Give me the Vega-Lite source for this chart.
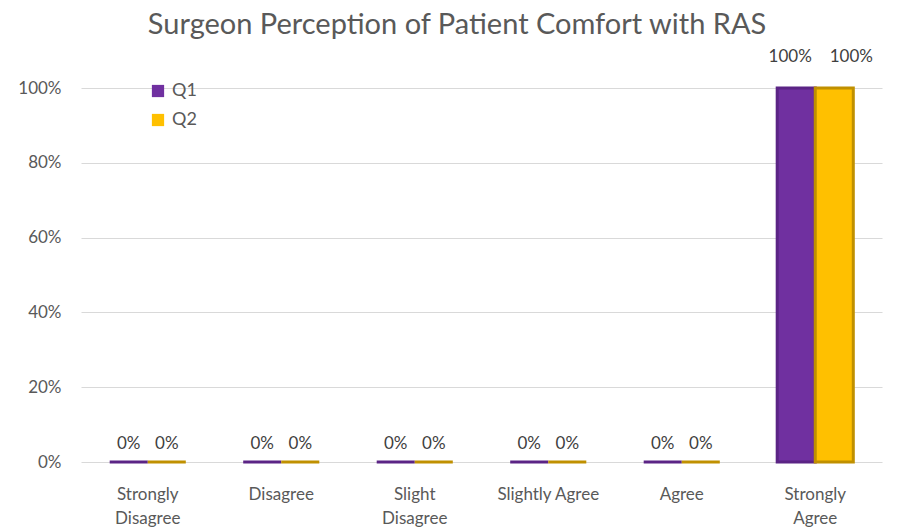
{
  "$schema": "https://vega.github.io/schema/vega-lite/v6.json",
  "width": 801,
  "height": 374,
  "autosize": {"type": "none"},
  "padding": {"left": 81, "top": 88, "right": 36, "bottom": 66},
  "background": "white",
  "title": {
    "text": "Surgeon Perception of Patient Comfort with RAS",
    "fontSize": 29,
    "font": "Lato",
    "fontWeight": "normal",
    "color": "#595959",
    "anchor": "start",
    "dx": 130,
    "offset": 8
  },
  "data": {
    "values": [
      {"category": "Strongly Disagree", "series": "Q1", "value": 0},
      {"category": "Strongly Disagree", "series": "Q2", "value": 0},
      {"category": "Disagree", "series": "Q1", "value": 0},
      {"category": "Disagree", "series": "Q2", "value": 0},
      {"category": "Slight Disagree", "series": "Q1", "value": 0},
      {"category": "Slight Disagree", "series": "Q2", "value": 0},
      {"category": "Slightly Agree", "series": "Q1", "value": 0},
      {"category": "Slightly Agree", "series": "Q2", "value": 0},
      {"category": "Agree", "series": "Q1", "value": 0},
      {"category": "Agree", "series": "Q2", "value": 0},
      {"category": "Strongly Agree", "series": "Q1", "value": 1},
      {"category": "Strongly Agree", "series": "Q2", "value": 1}
    ]
  },
  "encoding": {
    "x": {
      "field": "category",
      "type": "nominal",
      "sort": null,
      "scale": {"paddingInner": 0.43, "paddingOuter": 0.215},
      "axis": {
        "title": null,
        "labelAngle": 0,
        "domain": false,
        "ticks": false,
        "labelPadding": 24,
        "labelFont": "Lato",
        "labelFontSize": 17,
        "labelColor": "#595959",
        "labelLineHeight": 24,
        "labelExpr": "datum.value == 'Strongly Disagree' ? ['Strongly', 'Disagree'] : datum.value == 'Slight Disagree' ? ['Slight', 'Disagree'] : datum.value == 'Strongly Agree' ? ['Strongly', 'Agree'] : datum.value"
      }
    },
    "xOffset": {"field": "series", "type": "nominal", "sort": ["Q1", "Q2"]},
    "y": {
      "field": "value",
      "type": "quantitative",
      "scale": {"domain": [0, 1]},
      "axis": {
        "title": null,
        "format": ".0%",
        "values": [0, 0.2, 0.4, 0.6, 0.8, 1],
        "domain": false,
        "ticks": false,
        "labelPadding": 20,
        "labelFont": "Lato",
        "labelFontSize": 17,
        "labelColor": "#595959",
        "gridColor": "#d9d9d9",
        "gridWidth": 1
      }
    }
  },
  "layer": [
    {
      "mark": {"type": "bar", "strokeWidth": 3},
      "encoding": {
        "color": {
          "field": "series",
          "type": "nominal",
          "scale": {"domain": ["Q1", "Q2"], "range": ["#7030A0", "#FFC000"]},
          "legend": {
            "title": null,
            "orient": "none",
            "legendX": 68,
            "legendY": -6,
            "symbolType": "square",
            "symbolSize": 150,
            "symbolStrokeWidth": 0,
            "labelFont": "Lato",
            "labelFontSize": 18,
            "labelColor": "#595959",
            "rowPadding": 11,
            "labelOffset": 5
          }
        },
        "stroke": {
          "field": "series",
          "type": "nominal",
          "scale": {"domain": ["Q1", "Q2"], "range": ["#5B2485", "#C09000"]},
          "legend": null
        }
      }
    },
    {
      "transform": [{"filter": "datum.value < 1"}],
      "mark": {"type": "text", "dy": -18, "font": "Lato", "fontSize": 17, "color": "#404040"},
      "encoding": {
        "text": {"field": "value", "type": "quantitative", "format": ".0%"}
      }
    },
    {
      "transform": [{"filter": "datum.value >= 1 && datum.series == 'Q1'"}],
      "mark": {"type": "text", "dy": -31, "dx": -6, "font": "Lato", "fontSize": 17, "color": "#404040"},
      "encoding": {
        "text": {"field": "value", "type": "quantitative", "format": ".0%"}
      }
    },
    {
      "transform": [{"filter": "datum.value >= 1 && datum.series == 'Q2'"}],
      "mark": {"type": "text", "dy": -31, "dx": 17, "font": "Lato", "fontSize": 17, "color": "#404040"},
      "encoding": {
        "text": {"field": "value", "type": "quantitative", "format": ".0%"}
      }
    }
  ],
  "config": {"view": {"stroke": null}}
}
